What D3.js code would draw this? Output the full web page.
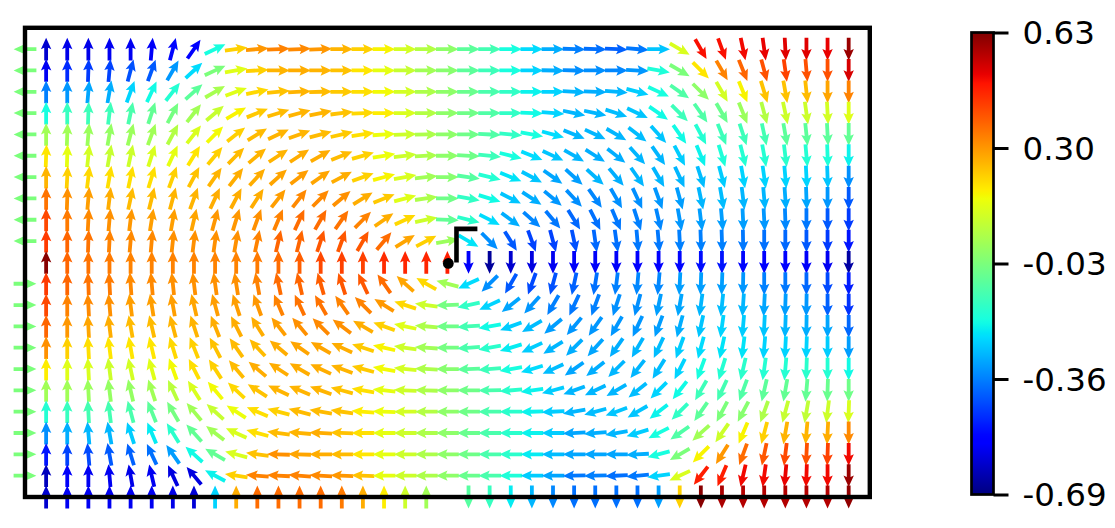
<!DOCTYPE html>
<html><head><meta charset="utf-8">
<style>html,body{margin:0;padding:0;background:#fff}svg{display:block}</style>
<script src="https://d3js.org/d3.v7.min.js"></script></head>
<body><svg id="c" width="1115" height="528"></svg>
<script>
// direction of each arrow in degrees (0 right, 90 up), rows top to bottom, 40 columns
const angles = [
[180,90,90,90,90,90,85,75,55,25, 8,5,3,3,2,0,0,0,0,0, 0,0,0,0,0,0,-2,-2,-3,-5, 0,-30,-60,-70,-78,-82,-87,-90,-90,-90],
[180,90,90,88,85,75,70,60,43,25, 10,3,0,0,0,0,0,0,0,0, 0,0,0,0,0,-1,-2,0,0,-3, -10,-30,-45,-60,-68,-75,-82,-85,-90,-90],
[180,90,90,85,80,70,65,52,42,30, 20,12,5,3,2,0,0,0,0,0, 0,0,0,0,0,0,-3,-2,-5,-15, -25,-35,-45,-60,-68,-73,-80,-84,-90,-90],
[180,90,90,88,83,78,72,62,52,40, 30,22,17,15,12,7,3,0,0,0, 0,0,0,0,-2,-5,-12,-12,-18,-25, -35,-45,-55,-60,-68,-75,-78,-82,-87,-90],
[180,90,88,85,80,75,70,62,52,45, 38,32,25,20,15,13,8,4,2,1, 0,0,-3,-5,-10,-15,-22,-25,-30,-38, -48,-55,-62,-68,-72,-78,-80,-84,-87,-90],
[180,88,88,84,80,78,72,65,58,50, 45,40,33,33,30,22,16,10,7,3, 0,-3,-6,-14,-22,-25,-30,-32,-38,-48, -55,-62,-68,-73,-76,-80,-83,-85,-88,-90],
[180,90,87,83,80,78,73,70,62,55, 52,47,42,38,35,28,20,15,10,6, 0,-8,-14,-22,-28,-35,-42,-42,-50,-55, -60,-65,-72,-75,-80,-82,-85,-87,-88,-90],
[180,90,88,85,83,78,76,75,70,65, 62,57,52,52,45,40,32,22,15,8, 0,-10,-17,-27,-33,-40,-47,-55,-60,-65, -70,-75,-78,-80,-83,-85,-86,-88,-90,-90],
[180,90,90,87,85,83,81,80,77,75, 73,70,67,65,60,55,45,35,25,12, -2,-14,-27,-36,-42,-50,-58,-63,-67,-72, -77,-80,-83,-85,-87,-87,-88,-90,-90,-90],
[180,90,90,88,87,85,85,84,83,82, 80,78,77,76,72,70,60,50,32,28, 10,-30,-45,-58,-70,-75,-78,-82,-82,-85, -85,-87,-88,-88,-89,-90,-90,-90,-90,-90],
[null,90,90,90,90,90,90,90,90,90, 90,90,90,90,90,90,90,90,90,90, 90,-90,-90,-90,-90,-90,-90,-90,-90,-90, -90,-90,-90,-90,-90,-90,-90,-90,-90,-90],
[0,90,90,92,93,94,95,96,97,98, 99,100,102,103,106,108,115,125,138,150, 165,205,225,240,250,255,258,261,263,265, 265,267,268,268,269,270,270,270,270,270],
[0,90,90,93,95,97,99,100,103,105, 108,110,113,115,120,125,135,148,162,172, 182,192,205,218,228,240,245,250,252,255, 258,260,262,264,266,267,268,269,270,270],
[0,90,90,93,97,100,103,105,108,112, 117,122,128,130,135,143,150,160,168,175, 180,184,190,200,210,220,230,235,240,245, 250,255,258,262,265,267,268,269,270,270],
[0,90,90,93,97,100,103,107,112,118, 125,133,140,145,150,155,162,167,172,176, 180,184,190,197,205,212,225,228,235,240, 245,250,255,258,263,265,267,268,270,270],
[0,90,90,93,97,102,105,110,117,123, 130,140,147,150,155,160,165,170,174,177, 180,182,185,190,197,205,215,218,225,232, 238,243,250,253,257,262,265,268,270,270],
[0,90,90,93,97,103,108,115,122,130, 137,147,155,157,160,165,170,174,177,178, 180,180,181,185,188,195,200,205,210,218, 225,232,240,245,250,257,260,265,268,270],
[0,90,90,93,97,105,112,120,130,138, 147,157,165,165,170,172,175,178,180,180, 180,180,180,180,182,183,190,195,200,210, 218,225,235,242,242,250,255,260,263,268],
[0,90,90,95,100,108,113,122,132,142, 155,165,172,175,177,178,180,180,180,180, 180,180,180,180,180,180,183,185,190,197, 207,215,222,235,247,255,260,265,267,270],
[0,90,90,95,100,107,115,125,138,150, 165,172,178,178,180,180,180,180,180,180, 180,180,180,180,180,180,180,180,180,183, 195,210,225,238,250,258,263,267,268,270],
[0,90,90,90,95,100,103,115,130,152, 172,175,177,175,176,178,178,180,180,180, 180,180,180,180,180,180,182,182,183,185, 188,205,232,247,257,262,265,268,270,270],
[null,90,90,90,90,90,90,90,90,90, 90,90,90,90,90,90,90,90,90,90, null,270,270,270,270,270,270,270,270,270, 270,270,270,270,270,270,270,270,270,270]
];
// colour value of each arrow, in hundredths
const values = [
[-3,-60,-57,-57,-56,-56,-55,-52,-53,-19, 22,30,33,32,30,26,22,17,11,6, 0,-8,-12,-19,-24,-30,-36,-38,-40,-37, -27,12,49,49,50,51,52,52,51,60],
[-3,-56,-47,-45,-44,-42,-41,-33,-24,-3, 13,22,26,27,26,24,19,14,9,3, -1,-8,-13,-19,-25,-30,-34,-34,-35,-33, -18,-3,19,33,37,40,42,40,40,53],
[-3,-36,-33,-31,-30,-25,-20,-17,-8,4, 13,21,24,26,25,23,20,16,11,5, 0,-6,-11,-15,-21,-25,-29,-30,-29,-26, -19,-10,0,11,17,24,24,25,28,33],
[-3,-19,-14,-13,-13,-11,-7,-4,3,9, 17,23,25,26,26,24,21,18,12,6, 0,-5,-10,-15,-20,-25,-29,-29,-28,-27, -20,-13,-10,-6,2,6,10,10,11,13],
[-3,3,3,2,1,2,3,6,12,16, 22,25,26,26,25,23,20,15,10,5, 0,-5,-10,-15,-19,-24,-29,-29,-29,-28, -27,-20,-17,-13,-13,-12,-8,-8,-8,-7],
[-3,19,14,11,9,10,12,14,19,22, 25,26,26,27,27,25,22,15,10,5, 0,-5,-13,-19,-24,-27,-29,-30,-30,-29, -29,-26,-21,-18,-17,-17,-16,-17,-18,-21],
[-3,26,22,21,20,20,20,22,24,26, 27,27,28,29,28,27,22,17,12,3, -1,-9,-17,-23,-27,-31,-32,-29,-30,-29, -29,-29,-28,-26,-25,-25,-25,-25,-27,-34],
[-3,35,31,29,27,25,25,26,26,27, 27,27,29,32,32,31,27,23,13,5, -5,-15,-20,-27,-30,-33,-34,-35,-34,-34, -33,-32,-29,-28,-29,-29,-30,-31,-33,-41],
[-3,41,34,32,31,30,29,29,28,30, 30,31,33,36,36,35,33,27,21,10, -7,-16,-24,-30,-35,-37,-39,-38,-37,-36, -35,-33,-32,-32,-32,-33,-35,-37,-41,-45],
[-3,43,37,35,33,32,32,31,31,31, 31,33,37,37,39,39,39,36,28,22, 2,-23,-34,-41,-44,-44,-42,-39,-38,-37, -37,-36,-36,-36,-37,-38,-39,-41,-45,-50],
[null,62,37,35,34,33,33,33,33,33, 33,34,36,38,41,42,42,45,46,46, 47,-55,-66,-60,-58,-56,-55,-55,-55,-53, -54,-52,-51,-50,-52,-53,-54,-55,-56,-65],
[-3,43,37,35,34,32,32,31,31,31, 31,33,36,37,38,39,39,36,28,21, 3,-24,-34,-41,-43,-42,-40,-38,-36,-35, -35,-32,-32,-32,-33,-36,-37,-39,-43,-49],
[-3,41,33,32,31,29,29,29,28,29, 29,30,33,35,35,33,33,30,21,10, -4,-15,-25,-31,-33,-36,-37,-36,-34,-34, -32,-31,-29,-28,-29,-31,-32,-33,-40,-46],
[-3,37,30,28,27,25,25,26,26,27, 27,27,29,31,32,31,27,22,13,5, -5,-12,-20,-26,-28,-32,-33,-33,-33,-33, -32,-30,-27,-25,-26,-27,-29,-30,-31,-39],
[-3,31,22,20,19,19,19,21,22,24, 25,25,27,28,28,27,23,17,10,3, -4,-11,-16,-22,-26,-29,-30,-31,-30,-29, -28,-26,-24,-23,-23,-25,-25,-25,-26,-32],
[-3,18,13,12,10,11,13,16,20,22, 25,27,27,27,27,26,23,16,11,5, -1,-8,-13,-19,-24,-28,-31,-30,-29,-29, -28,-25,-19,-17,-16,-17,-17,-16,-17,-20],
[-3,3,3,2,1,1,3,7,12,16, 21,24,26,26,26,24,20,14,10,5, 0,-5,-11,-16,-21,-26,-29,-29,-29,-28, -25,-20,-13,-12,-10,-8,-7,-7,-6,-5],
[-3,-17,-14,-12,-12,-11,-8,-4,3,9, 15,20,22,25,25,24,18,15,11,6, 0,-5,-11,-16,-21,-26,-29,-28,-27,-27, -21,-15,-8,-3,-1,5,9,8,10,12],
[-3,-34,-30,-29,-29,-26,-22,-16,-7,3, 12,20,25,26,27,24,20,14,10,5, 0,-6,-11,-16,-21,-26,-31,-30,-29,-26, -19,-10,3,10,17,22,26,26,27,32],
[-3,-50,-44,-43,-41,-40,-38,-32,-20,-7, 12,24,31,28,27,25,19,14,10,5, 0,-5,-11,-16,-22,-28,-31,-31,-31,-30, -19,-3,17,30,36,39,41,40,42,50],
[-3,-62,-55,-56,-56,-57,-56,-58,-58,-21, 22,33,33,33,32,30,24,14,10,5, 0,-6,-11,-18,-26,-31,-37,-36,-38,-37, -25,12,47,47,50,50,51,50,50,60],
[null,-60,-56,-56,-56,-56,-56,-57,-59,-25, 27,36,36,36,36,34,27,18,10,3, null,-9,-14,-22,-29,-35,-38,-38,-38,-38, -32,22,62,58,57,57,57,57,57,61]
];
const colorTicks = [-0.69,-0.36,-0.03,0.30,0.63];
const colorExtent = [-0.69,0.63];
const markerPoint = [20,10];
const markerPath = [[20.43,10],[20.43,8.43],[21.42,8.43]];

const svg = d3.select("#c");
const x = d3.scaleLinear().domain([0,40]).range([25,869.8]);
const y = d3.scaleLinear().domain([21,-1]).range([497,27.8]);

// jet colormap
const jr = d3.scaleLinear().domain([0,.35,.66,.89,1]).range([0,0,1,1,.5]).clamp(true);
const jg = d3.scaleLinear().domain([0,.125,.375,.64,.91,1]).range([0,0,1,1,0,0]).clamp(true);
const jb = d3.scaleLinear().domain([0,.11,.34,.65,1]).range([.5,1,1,0,0]).clamp(true);
const jet = t => d3.rgb(jr(t)*255,jg(t)*255,jb(t)*255).formatHex();
const norm = d3.scaleLinear().domain(colorExtent).range([0,1]);

// arrow glyph
const L=22.8, hl=11.5, ha=10, hw=5.2, sw=1.9;
const glyph = d3.line()([[-L/2,-sw],[L/2-ha,-sw],[L/2-hl,-hw],[L/2,0],[L/2-hl,hw],[L/2-ha,sw],[-L/2,sw]])+"Z";

const cells=[];
angles.forEach((row,r)=>row.forEach((a,c)=>{ if(a!==null) cells.push({r,c,a,v:values[r][c]/100}); }));
svg.append("g").selectAll("path").data(cells).join("path")
  .attr("d",glyph)
  .attr("fill",d=>jet(norm(d.v)))
  .attr("transform",d=>`translate(${x(d.c)},${y(d.r)}) rotate(${-d.a})`);

// frame
svg.append("rect").attr("x",x(0)).attr("y",y(-1))
  .attr("width",x(40)-x(0)).attr("height",y(21)-y(-1))
  .attr("fill","none").attr("stroke","#000").attr("stroke-width",4.4);

// marker
svg.append("path").attr("d",d3.line().x(d=>x(d[0])).y(d=>y(d[1]))(markerPath))
  .attr("fill","none").attr("stroke","#000").attr("stroke-width",4.6);
svg.append("circle").attr("cx",x(markerPoint[0])+0.9).attr("cy",y(markerPoint[1])+1).attr("r",5.4).attr("fill","#000");

// colorbar
const cbx=971.5, cbw=22;
const cy = d3.scaleLinear().domain(colorExtent).range([494.5,32.5]);
const grad = svg.append("defs").append("linearGradient").attr("id","jet")
  .attr("x1",0).attr("x2",0).attr("y1",1).attr("y2",0);
d3.range(0,1.0001,0.01).forEach(t=>grad.append("stop").attr("offset",t).attr("stop-color",jet(t)));
svg.append("rect").attr("x",cbx).attr("y",cy(colorExtent[1])).attr("width",cbw)
  .attr("height",cy(colorExtent[0])-cy(colorExtent[1])).attr("fill","url(#jet)")
  .attr("stroke","#000").attr("stroke-width",2.7);
const ax = svg.append("g").attr("transform",`translate(${cbx+cbw},0)`)
  .call(d3.axisRight(cy).tickValues(colorTicks).tickSize(15).tickPadding(14).tickFormat(d3.format(".2f")));
ax.select(".domain").remove();
ax.selectAll(".tick line").attr("stroke","#000").attr("stroke-width",3);
ax.selectAll(".tick text").attr("fill","#000").attr("font-family","'DejaVu Sans'").attr("font-size",32.5)
  .attr("y",1).text(d=>d3.format(".2f")(d).replace("\u2212","-"));
</script></body></html>
